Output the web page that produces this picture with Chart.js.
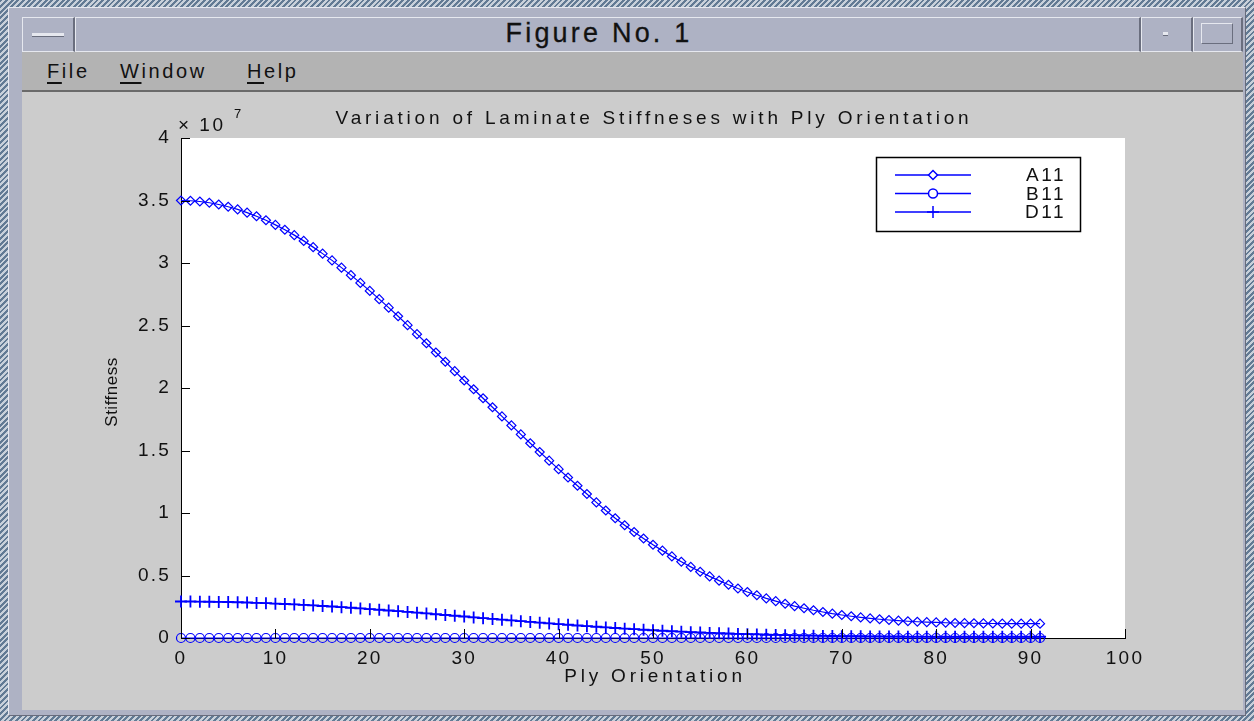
<!DOCTYPE html>
<html>
<head>
<meta charset="utf-8">
<title>Figure No. 1</title>
<script src="https://cdn.jsdelivr.net/npm/chart.js@4.4.0/dist/chart.umd.min.js"></script>
<style>
  body {
    margin: 0; width: 1254px; height: 721px; overflow: hidden; position: relative;
    background: repeating-linear-gradient(135deg, #627a94 0 2px, #c8d0da 2px 4px);
    font-family: "Liberation Sans", Arial, sans-serif;
  }
  .frame {
    position: absolute; left: 8px; top: 7px; width: 1238px; height: 709px;
    background: #aeb2c4; box-sizing: border-box;
    border-top: 1px solid #e6e8ef; border-left: 1px solid #e6e8ef;
    border-right: 1px solid #686c7c; border-bottom: 1px solid #686c7c;
  }
  .seg {
    position: absolute; top: 17px; height: 35px; box-sizing: border-box; background: #aeb2c4;
    border-top: 1px solid #e6e8ef; border-left: 1px solid #e6e8ef;
    border-right: 2px solid #6a6e7e; border-bottom: 1px solid #e6e8ef;
  }
  .title {
    position: absolute; top: 18px; left: 599px; transform: translateX(-50%);
    font-size: 27px; letter-spacing: 3.2px; color: #111; white-space: nowrap;
    -webkit-text-stroke: 0.3px #111;
  }
  .menubar {
    position: absolute; left: 22px; top: 52px; width: 1221px; height: 40px;
    background: #b3b3b3; box-sizing: border-box; border-bottom: 2px solid #6a6a6a;
  }
  .menu {
    position: absolute; top: 8px; font-size: 20px; letter-spacing: 2.6px; color: #111;
  }
  .menu u { text-underline-offset: 4px; }
  .fig {
    position: absolute; left: 22px; top: 92px; width: 1221px; height: 618px; background: #cccccc;
  }
</style>
</head>
<body>
<div class="frame"></div>
<div class="seg" style="left:22px;width:53px"></div>
<div class="seg" style="left:75px;width:1066px"></div>
<div class="seg" style="left:1141px;width:52px"></div>
<div class="seg" style="left:1193px;width:50px"></div>
<div style="position:absolute;left:32px;top:33px;width:32px;height:3px;background:#e6e8ef;border-bottom:1px solid #6a6e7e"></div>
<div style="position:absolute;left:1163px;top:32px;width:5px;height:3px;background:#e6e8ef;border-bottom:1px solid #6a6e7e"></div>
<div style="position:absolute;left:1201px;top:23px;width:32px;height:21px;box-sizing:border-box;border:1px solid #e6e8ef;border-right-color:#6a6e7e;border-bottom-color:#6a6e7e"></div>
<div class="title">Figure No. 1</div>
<div class="menubar">
  <span class="menu" style="left:25px"><u>F</u>ile</span>
  <span class="menu" style="left:98px"><u>W</u>indow</span>
  <span class="menu" style="left:225px"><u>H</u>elp</span>
</div>
<div class="fig"><canvas id="chart" width="1221" height="618"></canvas></div>

<script>
// ply angle in degrees
const angles = [0,1,2,3,4,5,6,7,8,9,10,11,12,13,14,15,16,17,18,19,20,21,22,23,24,25,26,27,28,29,
  30,31,32,33,34,35,36,37,38,39,40,41,42,43,44,45,46,47,48,49,50,51,52,53,54,55,56,57,58,59,
  60,61,62,63,64,65,66,67,68,69,70,71,72,73,74,75,76,77,78,79,80,81,82,83,84,85,86,87,88,89,90,91];

// stiffness values, x 1e7
const a11 = [3.500,3.498,3.492,3.482,3.468,3.450,3.429,3.403,3.374,3.342,3.305,3.266,3.223,3.177,3.127,
  3.075,3.021,2.963,2.903,2.841,2.777,2.711,2.643,2.574,2.503,2.431,2.358,2.284,2.210,2.135,
  2.060,1.990,1.918,1.846,1.773,1.701,1.629,1.558,1.488,1.419,1.351,1.284,1.218,1.152,1.085,
  1.020,0.958,0.902,0.848,0.796,0.746,0.699,0.653,0.610,0.569,0.530,0.493,0.459,0.426,0.396,
  0.368,0.342,0.317,0.295,0.274,0.255,0.238,0.222,0.208,0.195,0.184,0.174,0.165,0.157,0.150,
  0.144,0.139,0.134,0.130,0.127,0.125,0.122,0.120,0.119,0.118,0.117,0.116,0.115,0.115,0.115,0.115,0.115];
const b11 = [0,0,0,0,0,0,0,0,0,0,0,0,0,0,0,0,0,0,0,0,0,0,0,0,0,0,0,0,0,0,0,0,0,0,0,0,0,0,0,0,0,0,0,0,0,0,
  0,0,0,0,0,0,0,0,0,0,0,0,0,0,0,0,0,0,0,0,0,0,0,0,0,0,0,0,0,0,0,0,0,0,0,0,0,0,0,0,0,0,0,0,0,0];
const d11 = [0.292,0.292,0.291,0.290,0.289,0.288,0.286,0.284,0.281,0.279,0.275,0.272,0.269,0.265,0.261,
  0.256,0.252,0.247,0.242,0.237,0.231,0.226,0.220,0.215,0.209,0.203,0.197,0.190,0.184,0.178,
  0.172,0.165,0.159,0.153,0.147,0.141,0.135,0.129,0.123,0.117,0.111,0.106,0.100,0.095,0.090,
  0.085,0.080,0.075,0.071,0.066,0.062,0.058,0.054,0.051,0.047,0.044,0.041,0.038,0.036,0.033,
  0.031,0.029,0.026,0.025,0.023,0.021,0.020,0.019,0.017,0.016,0.015,0.015,0.014,0.013,0.013,
  0.012,0.012,0.011,0.011,0.011,0.010,0.010,0.010,0.010,0.010,0.010,0.010,0.010,0.010,0.010,0.010,0.010];

const xTicks = [0,10,20,30,40,50,60,70,80,90,100];
const yTicks = [0,0.5,1,1.5,2,2.5,3,3.5,4];

const BLUE = "#0000ff";
const FONT = "Liberation Sans";

function pts(ys) {
  return angles.map((a, i) => ({ x: a, y: ys[i] }));
}

// titles, inward ticks, exponent and legend, the way the old figure shows them
const figureBits = {
  id: "figureBits",
  beforeDraw(chart) {
    const { ctx, chartArea: ca } = chart;
    ctx.save();
    ctx.fillStyle = "#fff";
    ctx.fillRect(ca.left, ca.top, ca.right - ca.left, ca.bottom - ca.top);
    ctx.restore();
    chart.ctx.letterSpacing = "2.2px";
  },
  afterDraw(chart) {
    const { ctx, chartArea: ca, scales } = chart;
    ctx.save();
    ctx.strokeStyle = "#000";
    ctx.lineWidth = 1;
    ctx.beginPath();
    yTicks.forEach(v => {
      const y = Math.round(scales.y.getPixelForValue(v)) + 0.5;
      ctx.moveTo(ca.left, y); ctx.lineTo(ca.left + 9, y);
    });
    xTicks.forEach(v => {
      const x = Math.round(scales.x.getPixelForValue(v)) + 0.5;
      ctx.moveTo(x, ca.bottom); ctx.lineTo(x, ca.bottom - 9);
    });
    ctx.stroke();

    ctx.fillStyle = "#111";
    ctx.textBaseline = "middle";
    ctx.letterSpacing = "3.8px";
    ctx.font = `19px ${FONT}`;
    ctx.textAlign = "center";
    ctx.fillText("Variation of Laminate Stiffneses with Ply Orientation", (ca.left + ca.right) / 2 + 1, ca.top - 19);
    ctx.fillText("Ply Orientation", (ca.left + ca.right) / 2 + 2, ca.bottom + 39);

    ctx.textAlign = "left";
    ctx.letterSpacing = "2.5px";
    ctx.fillText("\u00d7 10", ca.left - 3, ca.top - 12);
    ctx.font = `13px ${FONT}`;
    ctx.fillText("7", ca.left + 53, ca.top - 24);

    ctx.save();
    ctx.translate(ca.left - 69, (ca.top + ca.bottom) / 2 + 4);
    ctx.rotate(-Math.PI / 2);
    ctx.textAlign = "center";
    ctx.letterSpacing = "0.5px";
    ctx.font = `17px ${FONT}`;
    ctx.fillText("Stiffness", 0, 0);
    ctx.restore();

    // legend box
    const bx = ca.right - 249, by = ca.top + 19, bw = 204, bh = 74;
    ctx.fillStyle = "#fff";
    ctx.fillRect(bx, by, bw, bh);
    ctx.strokeStyle = "#000";
    ctx.lineWidth = 1.5;
    ctx.strokeRect(bx + 0.5, by + 0.5, bw, bh);
    chart.data.datasets.forEach((ds, i) => {
      const y = by + 18 + i * 18.5;
      ctx.strokeStyle = BLUE;
      ctx.lineWidth = 1.5;
      ctx.beginPath();
      ctx.moveTo(bx + 19, y); ctx.lineTo(bx + 95, y);
      ctx.stroke();
      ctx.fillStyle = "#fff";
      Chart.helpers.drawPoint(ctx, {
        pointStyle: ds.pointStyle, radius: ds.pointRadius, borderWidth: 1.5, rotation: 0
      }, bx + 57, y);
      ctx.fillStyle = "#111";
      ctx.textAlign = "right";
      ctx.letterSpacing = "2.5px";
      ctx.font = `19px ${FONT}`;
      ctx.fillText(ds.label, bx + 190, y + 1);
    });
    ctx.restore();
  }
};

const common = {
  borderColor: BLUE, backgroundColor: "rgba(0,0,0,0)", pointBorderColor: BLUE,
  pointBackgroundColor: "rgba(0,0,0,0)", borderWidth: 1.2, pointBorderWidth: 1.2, clip: false
};

new Chart(document.getElementById("chart"), {
  type: "line",
  data: {
    datasets: [
      { ...common, label: "A11", data: pts(a11), pointStyle: "rectRot", pointRadius: 4.5 },
      { ...common, label: "B11", data: pts(b11), pointStyle: "circle", pointRadius: 4.5 },
      { ...common, label: "D11", data: pts(d11), pointStyle: "cross", pointRadius: 6, pointBorderWidth: 1.8 }
    ]
  },
  options: {
    responsive: false,
    animation: false,
    layout: { padding: { left: 0, top: 46, right: 118, bottom: 0 } },
    plugins: { legend: { display: false }, tooltip: { enabled: false } },
    scales: {
      x: {
        type: "linear", min: 0, max: 100,
        afterFit: s => { s.height = 72; },
        afterBuildTicks: s => { s.ticks = xTicks.map(v => ({ value: v })); },
        grid: { display: false },
        border: { display: true, color: "#000", width: 1 },
        ticks: { color: "#111", padding: 1, maxRotation: 0, font: { family: FONT, size: 19 },
          callback: v => String(v) }
      },
      y: {
        min: 0, max: 4,
        afterFit: s => { s.width = 159; },
        afterBuildTicks: s => { s.ticks = yTicks.map(v => ({ value: v })); },
        grid: { display: false },
        border: { display: true, color: "#000", width: 1 },
        ticks: { color: "#111", padding: 2, font: { family: FONT, size: 19 },
          callback: v => String(v) }
      }
    }
  },
  plugins: [figureBits]
});
</script>
</body>
</html>
